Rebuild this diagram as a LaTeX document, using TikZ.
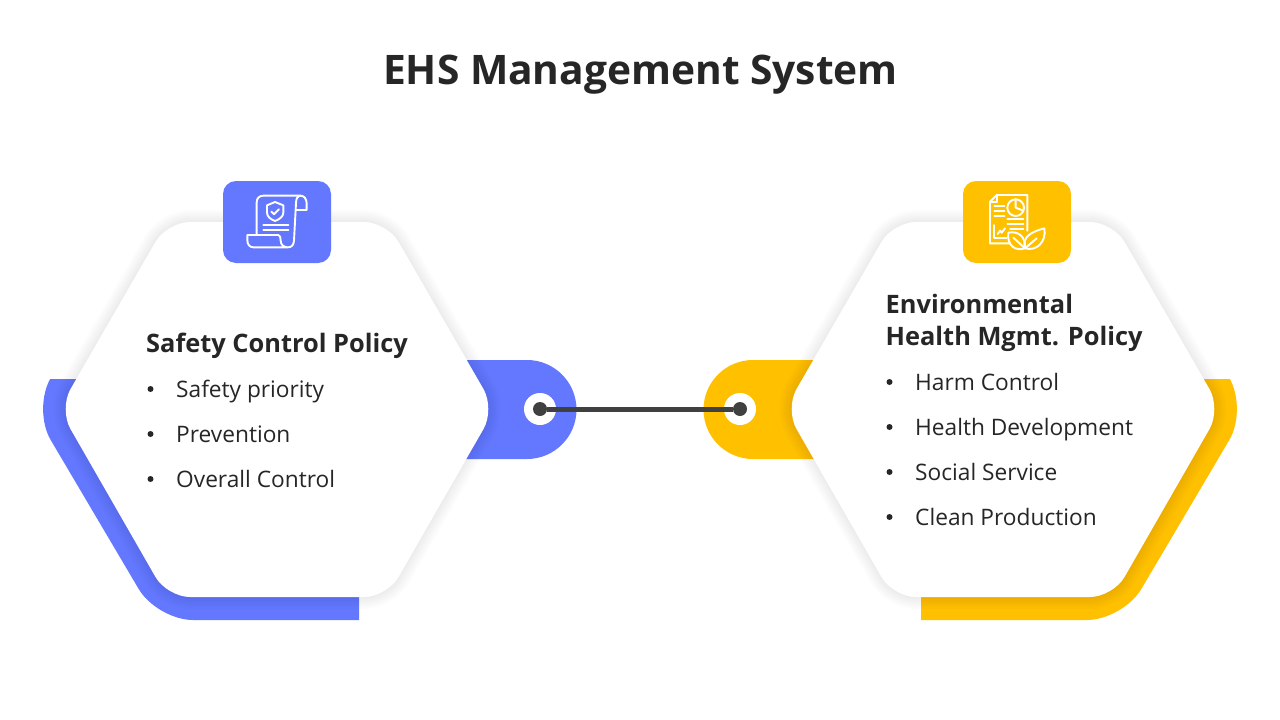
\documentclass[tikz,border=0pt]{standalone}
\usepackage{fontspec}
\setmainfont{Open Sans}
\definecolor{bluefill}{HTML}{6478FF}
\definecolor{yellowfill}{HTML}{FFC000}
\definecolor{inkdark}{HTML}{262626}
\definecolor{linkdark}{HTML}{404040}
\tikzset{
	headline/.style={anchor=base west, inner sep=0pt, text=inkdark, font=\fontsize{25.4}{28}\selectfont\bfseries},
	itemline/.style={anchor=base west, inner sep=0pt, text=inkdark, font=\fontsize{22.7}{26}\selectfont},
	bulletmark/.style={circle, fill=inkdark, inner sep=0pt, minimum size=6pt},
	holemark/.style={circle, fill=white, inner sep=0pt, minimum size=32pt},
	dotmark/.style={circle, fill=linkdark, inner sep=0pt, minimum size=14pt},
	iconline/.style={draw=white, line width=1.9pt, line join=round, line cap=round},
}

\begin{document}
\begin{tikzpicture}[x=1pt, y=-1pt]
	\useasboundingbox (0, 0) rectangle (1280, 720);
	%%%%% START %%%%%
	
	\node[anchor=base, inner sep=0pt, text=inkdark, font=\fontsize{40.7}{48}\selectfont\bfseries] (title) at (640.5, 84) {EHS Management System};
	
	% outer rims
	\begin{scope}
		\clip (0, 379) rectangle (359, 720);
		\fill[bluefill, rounded corners=36pt] (32.4, 409) -- (157, 198) -- (398.8, 198) -- (520.6, 409) -- (398.8, 620) -- (157, 620) -- cycle;
	\end{scope}
	\begin{scope}
		\clip (921, 379) rectangle (1280, 720);
		\fill[yellowfill, rounded corners=36pt] (759.4, 409) -- (881.2, 198) -- (1123, 198) -- (1247.6, 409) -- (1123, 620) -- (881.2, 620) -- cycle;
	\end{scope}
	
	% tabs
	\fill[bluefill] (440, 360) -- (527, 360) .. controls (554.3, 360) and (576.5, 382.2) .. (576.5, 409.5) .. controls (576.5, 436.8) and (554.3, 459) .. (527, 459) -- (440, 459) -- cycle;
	\fill[yellowfill] (840, 360) -- (753, 360) .. controls (725.7, 360) and (703.5, 382.2) .. (703.5, 409.5) .. controls (703.5, 436.8) and (725.7, 459) .. (753, 459) -- (840, 459) -- cycle;
	
	% soft edge
	\foreach \wd in {24, 20, 16, 12, 8, 4} {
		\draw[black, opacity=0.012, line width=\wd pt, rounded corners=23pt] (59, 409) -- (167, 222) -- (387, 222) -- (495, 409) -- (387, 597) -- (167, 597) -- cycle;
		\draw[black, opacity=0.012, line width=\wd pt, rounded corners=23pt] (785, 409) -- (893, 222) -- (1113, 222) -- (1221, 409) -- (1113, 597) -- (893, 597) -- cycle;
	}
	
	% hexagons
	\fill[white, rounded corners=23pt] (59, 409) -- (167, 222) -- (387, 222) -- (495, 409) -- (387, 597) -- (167, 597) -- cycle;
	\fill[white, rounded corners=23pt] (785, 409) -- (893, 222) -- (1113, 222) -- (1221, 409) -- (1113, 597) -- (893, 597) -- cycle;
	
	% icon tiles
	\fill[bluefill, rounded corners=13pt] (223, 181) rectangle (331, 263);
	\fill[yellowfill, rounded corners=13pt] (963, 181) rectangle (1071, 263);
	
	% scroll icon
	\begin{scope}[shift={(210, 170)}, x=0.3333pt, y=-0.3333pt, iconline]
		\draw (140, 195) -- (140, 97) .. controls (140, 85) and (148, 77) .. (160, 77) -- (272, 77) .. controls (283, 77) and (290, 88) .. (290, 100) -- (290, 120) -- (258, 120);
		\draw (272, 77) .. controls (262, 77) and (258, 88) .. (258, 100) -- (252, 212) .. controls (251, 225) and (245, 232) .. (234, 232) -- (130, 232) .. controls (118, 232) and (112, 222) .. (112, 210) -- (112, 195) -- (205, 195) .. controls (210, 195) and (212, 203) .. (212, 212) .. controls (212, 225) and (222, 232) .. (234, 232);
		\draw (195, 96) -- (220, 106) -- (220, 128) .. controls (220, 140) and (208, 148) .. (195, 153) .. controls (182, 148) and (171, 140) .. (171, 128) -- (171, 106) -- cycle;
		\draw (184, 125) -- (192, 133) -- (207, 118);
		\draw (160, 165) -- (235, 165);
		\draw (160, 180) -- (235, 180);
	\end{scope}
	
	% report and leaves icon
	\begin{scope}[shift={(950, 170)}, x=0.3333pt, y=-0.3333pt, iconline]
		\draw (180, 220) -- (120, 220) -- (120, 95) -- (140, 75) -- (232, 75) -- (232, 182);
		\draw (140, 75) -- (140, 95) -- (120, 95);
		\draw (197, 113) circle (25);
		\draw (197, 88) -- (197, 113) -- (220, 122);
		\draw (133, 108) -- (163, 108);
		\draw (133, 122) -- (163, 122);
		\draw (133, 137) -- (163, 137);
		\draw (172, 148) -- (220, 148);
		\draw (172, 162) -- (220, 162);
		\draw (180, 177) -- (220, 177);
		\draw (133, 165) -- (133, 205) -- (170, 205);
		\draw (143, 192) -- (150, 182) -- (155, 188) -- (165, 175);
		\draw (175, 188) .. controls (205, 182) and (228, 200) .. (225, 235) .. controls (195, 245) and (170, 225) .. (175, 188) -- cycle;
		\draw (283, 175) .. controls (245, 185) and (215, 200) .. (225, 235) .. controls (260, 245) and (290, 215) .. (283, 175) -- cycle;
		\draw (190, 203) -- (225, 235) -- (260, 205);
	\end{scope}
	
	% left text
	\node[headline] (safetyhead) at (146, 352) {Safety Control Policy};
	\foreach \nm/\ypos/\txt in {safety/397/Safety priority, prevention/442/Prevention, overall/487/Overall Control} {
		\node[bulletmark] (\nm dot) at (150.5, \ypos-8) {};
		\node[itemline] (\nm) at (176, \ypos) {\txt};
	}
	
	% right text
	\node[headline] (envhead) at (885.5, 313) {Environmental};
	\node[headline] (healthhead) at (885.5, 345) {Health Mgmt. Policy};
	\foreach \nm/\ypos/\txt in {harm/390/Harm Control, health/435/Health Development, social/480/Social Service, clean/525/Clean Production} {
		\node[bulletmark] (\nm dot) at (889.5, \ypos-8) {};
		\node[itemline] (\nm) at (915, \ypos) {\txt};
	}
	
	% link
	\node[holemark] (holeleft) at (540, 409) {};
	\node[holemark] (holeright) at (740, 409) {};
	\node[dotmark] (dotleft) at (540, 409) {};
	\node[dotmark] (dotright) at (740, 409) {};
	\draw[linkdark, line width=5pt] (dotleft) -- (dotright);
	
	%%%%% END %%%%%
\end{tikzpicture}
\end{document}
